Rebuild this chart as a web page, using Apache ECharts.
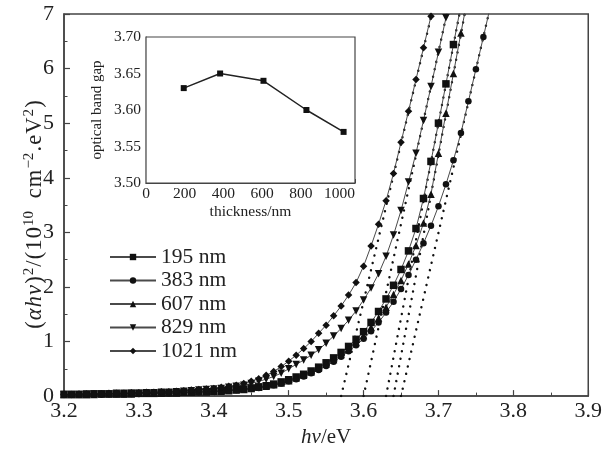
<!DOCTYPE html>
<html>
<head>
<meta charset="utf-8">
<script src="https://cdn.jsdelivr.net/npm/echarts@6/dist/echarts.min.js"></script>
<style>
  html, body { margin: 0; padding: 0; background: #fff; }
  #chart { width: 605px; height: 453px; }
</style>
</head>
<body>
<div id="chart"></div>
<script>
// Photon energy (eV), one sample every 0.01 eV
const energy = [
  3.20, 3.21, 3.22, 3.23, 3.24, 3.25, 3.26, 3.27, 3.28, 3.29,
  3.30, 3.31, 3.32, 3.33, 3.34, 3.35, 3.36, 3.37, 3.38, 3.39,
  3.40, 3.41, 3.42, 3.43, 3.44, 3.45, 3.46, 3.47, 3.48, 3.49,
  3.50, 3.51, 3.52, 3.53, 3.54, 3.55, 3.56, 3.57, 3.58, 3.59,
  3.60, 3.61, 3.62, 3.63, 3.64, 3.65, 3.66, 3.67, 3.68, 3.69,
  3.70, 3.71, 3.72, 3.73, 3.74, 3.75, 3.76, 3.77
];

// (alpha*h*nu)^2 in units of 1e10 cm^-2 eV^2, per film thickness
const abs195 = [
  0.03, 0.03, 0.03, 0.03, 0.04, 0.04, 0.04, 0.04, 0.04, 0.05,
  0.05, 0.05, 0.05, 0.06, 0.06, 0.06, 0.07, 0.07, 0.08, 0.08,
  0.09, 0.10, 0.11, 0.12, 0.13, 0.15, 0.17, 0.19, 0.22, 0.26,
  0.30, 0.35, 0.40, 0.46, 0.53, 0.61, 0.70, 0.80, 0.91, 1.04,
  1.18, 1.35, 1.55, 1.78, 2.03, 2.32, 2.66, 3.07, 3.62, 4.30,
  5.00, 5.72, 6.44, 7.16
];
const abs383 = [
  0.03, 0.03, 0.03, 0.03, 0.03, 0.03, 0.04, 0.04, 0.04, 0.04,
  0.04, 0.05, 0.05, 0.05, 0.05, 0.06, 0.06, 0.07, 0.07, 0.08,
  0.08, 0.09, 0.10, 0.11, 0.12, 0.13, 0.15, 0.17, 0.20, 0.23,
  0.27, 0.31, 0.36, 0.42, 0.48, 0.55, 0.63, 0.72, 0.82, 0.93,
  1.05, 1.19, 1.35, 1.53, 1.73, 1.96, 2.22, 2.50, 2.80, 3.12,
  3.48, 3.88, 4.32, 4.82, 5.40, 5.99, 6.58, 7.18
];
const abs607 = [
  0.03, 0.03, 0.03, 0.03, 0.03, 0.04, 0.04, 0.04, 0.04, 0.04,
  0.05, 0.05, 0.05, 0.05, 0.06, 0.06, 0.07, 0.07, 0.08, 0.08,
  0.09, 0.09, 0.10, 0.11, 0.12, 0.14, 0.16, 0.18, 0.21, 0.24,
  0.28, 0.33, 0.38, 0.44, 0.51, 0.59, 0.67, 0.76, 0.86, 0.98,
  1.11, 1.26, 1.43, 1.63, 1.86, 2.12, 2.42, 2.76, 3.17, 3.70,
  4.45, 5.18, 5.91, 6.65, 7.38
];
const abs829 = [
  0.03, 0.03, 0.03, 0.04, 0.04, 0.04, 0.04, 0.05, 0.05, 0.05,
  0.05, 0.06, 0.06, 0.07, 0.07, 0.08, 0.09, 0.10, 0.11, 0.12,
  0.13, 0.14, 0.16, 0.18, 0.20, 0.23, 0.27, 0.31, 0.36, 0.42,
  0.50, 0.58, 0.66, 0.75, 0.85, 0.97, 1.10, 1.24, 1.39, 1.56,
  1.76, 1.98, 2.24, 2.56, 2.95, 3.40, 3.92, 4.45, 5.05, 5.67,
  6.30, 6.93, 7.56
];
const abs1021 = [
  0.03, 0.03, 0.04, 0.04, 0.04, 0.04, 0.05, 0.05, 0.05, 0.06,
  0.06, 0.07, 0.07, 0.08, 0.08, 0.09, 0.10, 0.11, 0.12, 0.13,
  0.14, 0.16, 0.18, 0.20, 0.23, 0.27, 0.32, 0.38, 0.45, 0.54,
  0.64, 0.75, 0.87, 1.00, 1.15, 1.30, 1.47, 1.65, 1.85, 2.08,
  2.38, 2.75, 3.15, 3.58, 4.08, 4.65, 5.22, 5.80, 6.38, 6.96,
  7.54
];

// Film thickness (nm) and fitted optical band gap (eV)
const thickness = [195, 383, 607, 829, 1021];
const bandGap = [3.63, 3.65, 3.64, 3.60, 3.57];
// Energy where each linear fit reaches the top of the plot (y = 7)
const fitTopEnergy = [3.728, 3.767, 3.735, 3.711, 3.691];
const fitTopValue = 7;

const seriesNames = ['195 nm', '383 nm', '607 nm', '829 nm', '1021 nm'];
const seriesValues = [abs195, abs383, abs607, abs829, abs1021];
const markers = ['rect', 'circle', 'triangle', 'triangle', 'diamond'];
const markerRotate = [0, 0, 0, 180, 0];

const xTicks = { min: 3.2, max: 3.9, step: 0.1 };
const yTicks = { min: 0, max: 7, step: 1 };
const insetXTicks = { min: 0, max: 1080, step: 200 };
const insetYTicks = { min: 3.5, max: 3.7, step: 0.05 };

const serif = 'Liberation Serif, Times New Roman, serif';
const ink = '#222';
const frame = '#444';

const curveSeries = seriesNames.map((name, k) => ({
  name: name,
  type: 'line',
  xAxisIndex: 0, yAxisIndex: 0,
  data: seriesValues[k].map((v, i) => [energy[i], v]),
  symbol: markers[k],
  symbolRotate: markerRotate[k],
  symbolSize: markers[k] === 'circle' ? 6.5 : 7.5,
  showSymbol: true,
  itemStyle: { color: '#111' },
  lineStyle: { color: '#4a4a4a', width: 1 },
  clip: true,
  z: 3
}));

// Dotted linear fits, from the band gap on the energy axis up to the top edge
const fitSeries = seriesNames.map((name, k) => ({
  name: 'fit ' + name,
  type: 'line',
  xAxisIndex: 0, yAxisIndex: 0,
  data: [[bandGap[k], 0], [fitTopEnergy[k], fitTopValue]],
  symbol: 'none',
  lineStyle: { color: '#111', width: 2.4, type: [0.1, 7.5], cap: 'round' },
  clip: true,
  silent: true,
  z: 2
}));

const insetSeries = {
  name: 'gap',
  type: 'line',
  xAxisIndex: 1, yAxisIndex: 1,
  data: thickness.map((t, i) => [t, bandGap[i]]),
  symbol: 'rect',
  symbolSize: 6,
  itemStyle: { color: '#111' },
  lineStyle: { color: '#222', width: 1.5 },
  z: 5
};

// Y-axis title, built from tokens so that each glyph gets a little tracking
const pad = [0, 1.1, 0, 0];
const tok = { fontFamily: serif, fontSize: 22.5, lineHeight: 26, color: ink, padding: pad };
const yTitleRich = {
  n: tok,
  i: Object.assign({}, tok, { fontStyle: 'italic' }),
  s: { fontFamily: serif, fontSize: 15, lineHeight: 15, verticalAlign: 'top', color: ink, padding: pad },
  w: Object.assign({}, tok, { padding: [0, 6, 0, 0] })
};
const yTitle = '{n|(}{i|α}{i|h}{i|ν}{n|)}{s|2}{n|/}{n|(}{n|1}{n|0}{s|10}{w| }{n|c}{n|m}{s|−2}{n|.}{n|e}{n|V}{s|2}{n|)}';

const option = {
  animation: false,
  backgroundColor: '#fff',
  grid: [
    { left: 64, right: 15, top: 14, bottom: 51, show: true, borderColor: frame, borderWidth: 1.5, backgroundColor: 'transparent', z: 1 },
    { left: 146, top: 37, width: 209, height: 146, show: true, borderColor: frame, borderWidth: 1.2, backgroundColor: '#fff', z: 4 }
  ],
  graphic: [{
    type: 'text',
    x: 35, y: 214,
    rotation: Math.PI / 2,
    style: {
      text: yTitle,
      rich: yTitleRich,
      align: 'center',
      verticalAlign: 'middle',
      fill: ink
    },
    z: 10
  }],
  legend: {
    data: seriesNames,
    orient: 'vertical',
    left: 104,
    top: 241,
    itemWidth: 46,
    itemHeight: 8,
    itemGap: 1.5,
    textStyle: { fontFamily: serif, fontSize: 21.5, color: ink }
  },
  xAxis: [
    {
      type: 'value', gridIndex: 0,
      min: xTicks.min, max: xTicks.max, interval: xTicks.step,
      axisLine: { show: true, lineStyle: { color: frame, width: 1.5 } },
      axisTick: { show: true, inside: true, length: 6, lineStyle: { color: frame, width: 1.2 } },
      minorTick: { show: true, splitNumber: 2, length: 3.5, lineStyle: { color: frame, width: 1 } },
      splitLine: { show: false },
      axisLabel: { fontFamily: serif, fontSize: 22, color: ink, margin: 4, formatter: v => v.toFixed(1) },
      name: '{i|hν}/eV',
      nameLocation: 'middle',
      nameGap: 29,
      nameTextStyle: { fontFamily: serif, fontSize: 21, color: ink, rich: { i: { fontStyle: 'italic', fontFamily: serif, fontSize: 21, color: ink } } }
    },
    {
      type: 'value', gridIndex: 1,
      min: insetXTicks.min, max: insetXTicks.max, interval: insetXTicks.step,
      axisLine: { show: true, lineStyle: { color: frame, width: 1.2 } },
      axisTick: { show: true, inside: true, length: 4, lineStyle: { color: frame, width: 1 } },
      minorTick: { show: true, splitNumber: 2, length: 2.5, lineStyle: { color: frame, width: 1 } },
      splitLine: { show: false },
      axisLabel: { fontFamily: serif, fontSize: 15.5, color: ink, margin: 3, formatter: v => String(v) },
      name: 'thickness/nm',
      nameLocation: 'middle',
      nameGap: 21,
      nameTextStyle: { fontFamily: serif, fontSize: 15.5, color: ink }
    }
  ],
  yAxis: [
    {
      type: 'value', gridIndex: 0,
      min: yTicks.min, max: yTicks.max, interval: yTicks.step,
      axisLine: { show: true, lineStyle: { color: frame, width: 1.5 } },
      axisTick: { show: true, inside: true, length: 6, lineStyle: { color: frame, width: 1.2 } },
      minorTick: { show: true, splitNumber: 2, length: 3.5, lineStyle: { color: frame, width: 1 } },
      splitLine: { show: false },
      axisLabel: { fontFamily: serif, fontSize: 22, color: ink, margin: 10 }
    },
    {
      type: 'value', gridIndex: 1,
      min: insetYTicks.min, max: insetYTicks.max, interval: insetYTicks.step,
      axisLine: { show: true, lineStyle: { color: frame, width: 1.2 } },
      axisTick: { show: true, inside: true, length: 4, lineStyle: { color: frame, width: 1 } },
      minorTick: { show: true, splitNumber: 2, length: 2.5, lineStyle: { color: frame, width: 1 } },
      splitLine: { show: false },
      axisLabel: { fontFamily: serif, fontSize: 15.5, color: ink, margin: 5, formatter: v => v.toFixed(2) },
      name: 'optical band gap',
      nameLocation: 'middle',
      nameGap: 41,
      nameTextStyle: { fontFamily: serif, fontSize: 15, color: ink }
    }
  ],
  series: [...fitSeries, ...curveSeries, insetSeries]
};

const chart = echarts.init(document.getElementById('chart'), null, { renderer: 'canvas' });
chart.setOption(option);
</script>
</body>
</html>
